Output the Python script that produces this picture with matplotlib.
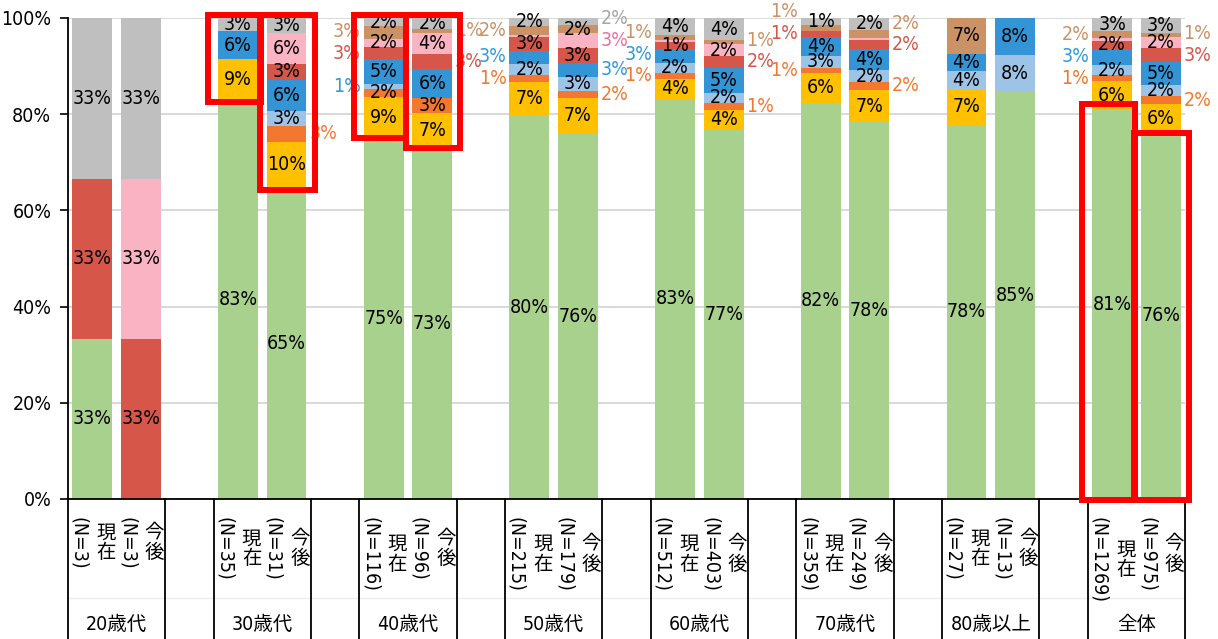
import matplotlib.pyplot as plt
import matplotlib.transforms as mtransforms
from matplotlib.patches import Rectangle
import numpy as np

plt.rcParams['font.family'] = ['DejaVu Sans', 'Noto Sans CJK JP']
plt.rcParams['font.stretch'] = 'condensed'

# data (percent), 16 bars: each age group has 現在 / 今後
groups = ['20歳代', '30歳代', '40歳代', '50歳代', '60歳代', '70歳代', '80歳以上', '全体']
periods = ['現在', '今後']
n_counts = [3, 3, 35, 31, 116, 96, 215, 179, 512, 403, 359, 249, 27, 13, 1269, 975]

green = [33.3, 0, 82.9, 64.6, 75.0, 72.9, 79.7, 76.0, 83.2, 76.9, 82.4, 78.3, 77.8, 84.6, 80.9, 76.2]
gold = [0, 0, 8.6, 9.7, 8.6, 7.3, 7.0, 7.3, 4.1, 4.0, 6.1, 6.8, 7.4, 0, 5.9, 5.9]
orange = [0, 0, 0, 3.2, 1.7, 3.1, 1.4, 1.6, 1.3, 1.4, 1.1, 1.6, 0, 0, 1.3, 1.6]
light_blue = [0, 0, 0, 3.2, 0.9, 0, 2.3, 2.9, 2.1, 2.2, 2.6, 2.4, 3.7, 7.7, 2.1, 2.3]
blue = [0, 0, 5.7, 6.5, 5.2, 6.2, 2.8, 2.9, 2.9, 5.2, 3.9, 4.4, 3.7, 7.7, 3.3, 4.8]
red = [33.3, 33.3, 0, 3.2, 2.6, 3.1, 2.8, 3.1, 1.4, 2.4, 1.3, 1.9, 0, 0, 1.8, 2.9]
pink = [0, 33.3, 0, 6.5, 1.7, 4.2, 0.5, 3.0, 0.5, 2.4, 0, 0.4, 0, 0, 0.6, 2.4]
tan = [0, 0, 0, 0, 2.6, 1.0, 1.9, 1.7, 1.0, 1.0, 1.2, 1.8, 7.4, 0, 1.5, 0.8]
gray = [33.3, 33.3, 2.9, 3.2, 1.7, 2.1, 1.6, 1.6, 3.6, 4.4, 1.4, 2.4, 0, 0, 2.6, 3.1]

series = [green, gold, orange, light_blue, blue, red, pink, tan, gray]
colors = ['#A9D18E', '#FFC000', '#F4772F', '#9DC3E6', '#3395D6',
          '#D6574A', '#F9B3C3', '#CB9266', '#BFBFBF']
label_colors = ['#70AD47', '#E0A800', '#F4772F', '#2E9BE0', '#2E9BE0',
                '#D6574A', '#EE6FA0', '#CB9266', '#A6A6A6']

# labels that sit beside the bar instead of inside it: bar -> series indices
outside = {3: [2], 4: [3, 5, 7], 5: [5, 7], 6: [2, 4, 7], 7: [2, 4, 6, 8],
           8: [2, 4, 7], 9: [2, 5, 7], 10: [2, 5, 7], 11: [2, 5, 7],
           14: [2, 4, 7], 15: [2, 5, 7]}

# red highlight boxes: (bar, bottom %, top %)
boxes = [(2, 82.5, 100.6), (3, 64.2, 100.6), (4, 75.0, 100.6), (5, 73.0, 100.6),
         (14, -0.3, 82.1), (15, -0.3, 76.1)]

x = np.array([3 * g + k for g in range(len(groups)) for k in range(2)], dtype=float)
width = 0.82

fig = plt.figure(figsize=(12.18, 6.39), dpi=100)
ax = fig.add_axes([68 / 1218, 1 - 499 / 639, (1185 - 68) / 1218, (499 - 18) / 639])

bottom = np.zeros(len(x))
starts = []
for vals, c in zip(series, colors):
    vals = np.array(vals, dtype=float)
    ax.bar(x, vals, width, bottom=bottom, color=c, zorder=2)
    starts.append(bottom.copy())
    bottom += vals

# data labels
for i in range(len(x)):
    side = []
    for s, vals in enumerate(series):
        v = vals[i]
        if v < 0.8:
            continue
        cy = starts[s][i] + v / 2
        if s in outside.get(i, []):
            side.append([cy, s, v])
        else:
            ax.text(x[i], cy, f'{v:.0f}%', ha='center', va='center',
                    fontsize=14, color='black', zorder=4)
    side.sort()
    for k in range(1, len(side)):
        if side[k][0] < side[k - 1][0] + 4.5:
            side[k][0] = side[k - 1][0] + 4.5
    for cy, s, v in side:
        if i % 2 == 0:
            ax.text(x[i] - width / 2 - 0.06, cy, f'{v:.0f}%', ha='right', va='center',
                    fontsize=14, color=label_colors[s], zorder=4, clip_on=False)
        else:
            ax.text(x[i] + width / 2 + 0.06, cy, f'{v:.0f}%', ha='left', va='center',
                    fontsize=14, color=label_colors[s], zorder=4, clip_on=False)

# highlight boxes
for i, y0, y1 in boxes:
    if i % 2 == 0:
        x0, x1 = x[i] - 0.62, x[i] + 0.47
    else:
        x0, x1 = x[i] - 0.55, x[i] + 0.58
    ax.add_patch(Rectangle((x0, y0), x1 - x0, y1 - y0, fill=False, ec='#FF0000',
                           lw=4.3, zorder=6, clip_on=False))

ax.set_xlim(-0.5, 22.5)
ax.set_ylim(0, 100)
ax.set_xticks([])
ax.set_yticks(range(0, 101, 20))
ax.set_yticklabels([f'{v}%' for v in range(0, 101, 20)])
ax.tick_params(axis='y', length=6, width=1.2, labelsize=14, pad=6, color='black')
ax.yaxis.grid(True, color='#D9D9D9', lw=1.4)
ax.set_axisbelow(True)
for side_name in ['top', 'right']:
    ax.spines[side_name].set_visible(False)
for side_name in ['left', 'bottom']:
    ax.spines[side_name].set_color('black')
    ax.spines[side_name].set_linewidth(1.3)

# category table under the axis
trans = mtransforms.blended_transform_factory(ax.transData, ax.transAxes)
ax.plot([-0.5, 22.5], [-0.206, -0.206], transform=trans, color='#EEEEEE',
        lw=1, clip_on=False, zorder=1)
for g, name in enumerate(groups):
    for xv in (3 * g - 0.5, 3 * g + 1.5):
        ax.plot([xv, xv], [0, -0.30], transform=trans, color='black', lw=1.3,
                clip_on=False)
    ax.text(3 * g + 0.5, -0.26, name, transform=trans, ha='center', va='center',
            fontsize=14)

renderer = fig.canvas.get_renderer()
for i in range(len(x)):
    t = ax.text(x[i] - 0.28, -0.037, f'(N={n_counts[i]})', transform=trans,
                rotation=-90, ha='center', va='top', fontsize=14)
    bb = t.get_window_extent(renderer)
    cy = ax.transAxes.inverted().transform((0, (bb.y0 + bb.y1) / 2))[1]
    ax.text(x[i] + 0.28, cy, '\n'.join(periods[i % 2]), transform=trans,
            ha='center', va='center', fontsize=14, linespacing=1.05)

fig.savefig('out.png', dpi=100)
